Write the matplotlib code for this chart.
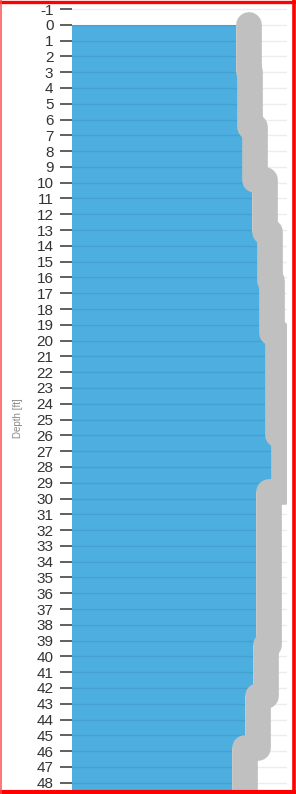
import numpy as np
import matplotlib
matplotlib.use('Agg')
import matplotlib.pyplot as plt
from matplotlib.transforms import ScaledTranslation
from matplotlib.lines import Line2D

plt.rcParams['font.family'] = ['Liberation Sans', 'DejaVu Sans']

# layer tops / bottoms [ft] and profile value for each layer
layer_top = [0, 3, 6.5, 9.85, 13.1, 16.2, 19.5, 26.0, 29.6, 39.3, 42.5, 45.8, 49]
layer_bot = [3, 6.5, 9.85, 13.1, 16.2, 19.5, 26.0, 29.6, 39.3, 42.5, 45.8, 49, 50]
layer_val = [76.3, 77.0, 79.5, 83.9, 86.4, 87.4, 90.1, 92.9, 85.7, 84.3, 80.5, 74.6, 62.3]
depth_ticks = list(range(-1, 49))

fig = plt.figure(figsize=(2.96, 7.94), dpi=100)
ax = fig.add_axes([72/296, 1 - 790/794, 215/296, 787/794])

tops = np.array(layer_top)
bots = np.array(layer_bot)
vals = np.array(layer_val)

# blue bars
ax.barh(tops, vals, height=bots - tops, align='edge', color='#4daee0',
        linewidth=0, zorder=1)

# grey profile line, drawn just right of the bar ends
xs = np.repeat(vals, 2)
ys = np.column_stack([tops, bots]).ravel()
shift = ax.transData + ScaledTranslation(12.5/100, 0, fig.dpi_scale_trans)
ax.plot(xs, ys, color='#c0c0c0', lw=18.5, solid_capstyle='round',
        solid_joinstyle='round', transform=shift, zorder=3)

ax.set_xlim(0, 100)
ax.set_ylim(48.46, -1.38)
ax.set_yticks(depth_ticks)
ax.set_yticklabels([str(d) for d in depth_ticks])
ax.set_xticks([])
ax.tick_params(axis='y', length=8.4, width=1.2, color='#444444', pad=5,
               labelsize=11, labelcolor='#333333')
ax.set_axisbelow('line')
ax.grid(axis='y', color='black', alpha=0.07, lw=1)
for s in ax.spines.values():
    s.set_visible(False)

fig.text(18/296, 1 - 418/794, 'Depth [ft]', rotation=90, fontsize=7,
         color='#888888', ha='center', va='center')

# red frame
fig.add_artist(Line2D([0, 1], [1 - 1.5/794] * 2, color='red', lw=2.4))
fig.add_artist(Line2D([0, 1], [2/794] * 2, color='red', lw=3))
fig.add_artist(Line2D([1 - 2/296] * 2, [0, 1], color='red', lw=2.6))
fig.add_artist(Line2D([0.5/296] * 2, [0, 1], color='#ff5050', lw=1.1))

fig.savefig('out.png', dpi=100)
